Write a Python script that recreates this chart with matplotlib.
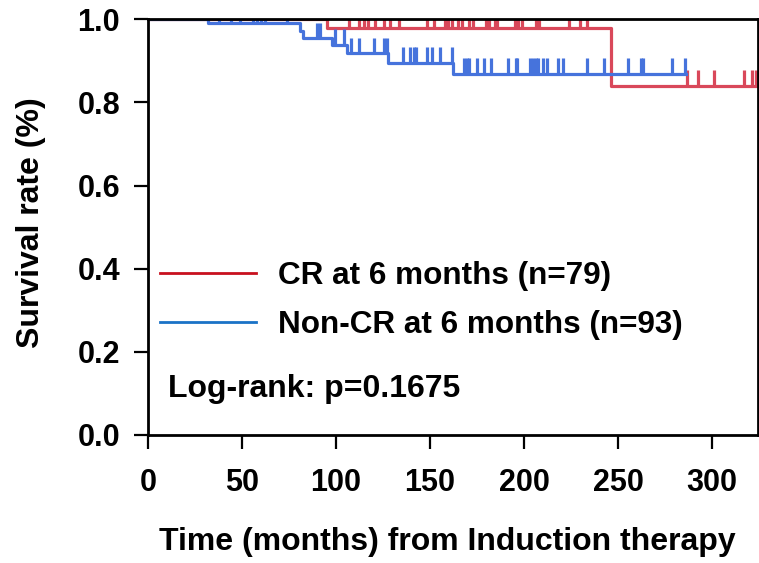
import numpy as np
import matplotlib
matplotlib.use('Agg')
import matplotlib.pyplot as plt
from matplotlib.lines import Line2D

plt.rcParams['font.family'] = ['Liberation Sans', 'DejaVu Sans']
plt.rcParams['font.weight'] = 'bold'

# Kaplan-Meier step points (time in months, survival)
cr_times = [0, 95.4, 246.3, 324]
cr_surv = [1.0, 0.978, 0.840, 0.840]
cr_censor = [107, 112, 115, 117, 120.7, 125.7, 128.7, 133.7, 148.2, 152.3, 158,
             159.4, 161.5, 165, 167, 170.7, 172.7, 179.8, 181.2, 184.8, 185.8,
             195.2, 197, 198.8, 206.4, 208.1, 224, 229.8, 233.7,
             286.6, 292.4, 300.9, 317.3, 321.4, 323.7]

ncr_times = [0, 32, 81, 82.6, 97.7, 105.7, 127.8, 162.4, 286]
ncr_surv = [1.0, 0.990, 0.973, 0.954, 0.938, 0.918, 0.896, 0.868, 0.868]
ncr_censor = [38, 44, 49, 56, 58, 60, 62, 74,
              90, 91.5, 99.5, 104,
              108, 112, 120, 125.7, 127,
              135.8, 139.4, 141.7, 142.6, 148.2, 150.9, 155.3, 161.5,
              168, 169.5, 171, 175, 178.7, 182.4, 191.7, 195.5, 196.5, 203.2,
              205, 206.5, 207.5, 210, 212, 218, 220.6, 233.3, 242.7, 255.5,
              262.2, 263.5, 278.7, 285.6]

labels = ['CR at 6 months (n=79)', 'Non-CR at 6 months (n=93)']
p_text = 'Log-rank: p=0.1675'

curve_colors = ['#d9485a', '#4673dc']
legend_colors = ['#c8101e', '#1a72c6']


def level_at(times, surv, t):
    idx = np.searchsorted(times, t, side='right') - 1
    return np.asarray(surv)[idx]


fig = plt.figure(figsize=(7.59, 5.63), dpi=100)
ax = fig.add_axes([148 / 759, 1 - 435 / 563, 610 / 759, 415.7 / 563])

for times, surv, cens, col in [(cr_times, cr_surv, cr_censor, curve_colors[0]),
                               (ncr_times, ncr_surv, ncr_censor, curve_colors[1])]:
    ax.step(times, surv, where='post', color=col, lw=2.3)
    lv = level_at(times, surv, cens)
    ax.vlines(cens, lv, lv + 0.038, color=col, lw=2.3)

ax.set_xlim(0, 324.5)
ax.set_ylim(0, 1.0)
ax.set_xticks(np.arange(0, 301, 50))
ax.set_yticks(np.arange(0, 1.01, 0.2))
ax.yaxis.set_major_formatter(plt.FuncFormatter(lambda v, _: f'{v:.1f}'))

for s in ax.spines.values():
    s.set_linewidth(2)
ax.tick_params(direction='out', length=10, width=1.6, labelsize=22)
ax.tick_params(axis='x', pad=14)
ax.tick_params(axis='y', pad=10)

ax.set_xlabel('Time (months) from Induction therapy', fontsize=23, fontweight='bold')
ax.xaxis.set_label_coords(0.49, -0.222)
ax.set_ylabel('Survival rate (%)', fontsize=23, fontweight='bold')
ax.yaxis.set_label_coords(-0.168, 0.51)

handles = [Line2D([], [], color=c, lw=2) for c in legend_colors]
ax.legend(handles, labels, loc='upper left', bbox_to_anchor=(0.0196, 0.418),
          frameon=False, fontsize=22.7, handlelength=3.05, handletextpad=0.68,
          borderpad=0, borderaxespad=0, labelspacing=0.6)

ax.text(0.033, 0.092, p_text, transform=ax.transAxes, fontsize=23,
        fontweight='bold', va='baseline', ha='left')

fig.savefig('out.png', dpi=100)
